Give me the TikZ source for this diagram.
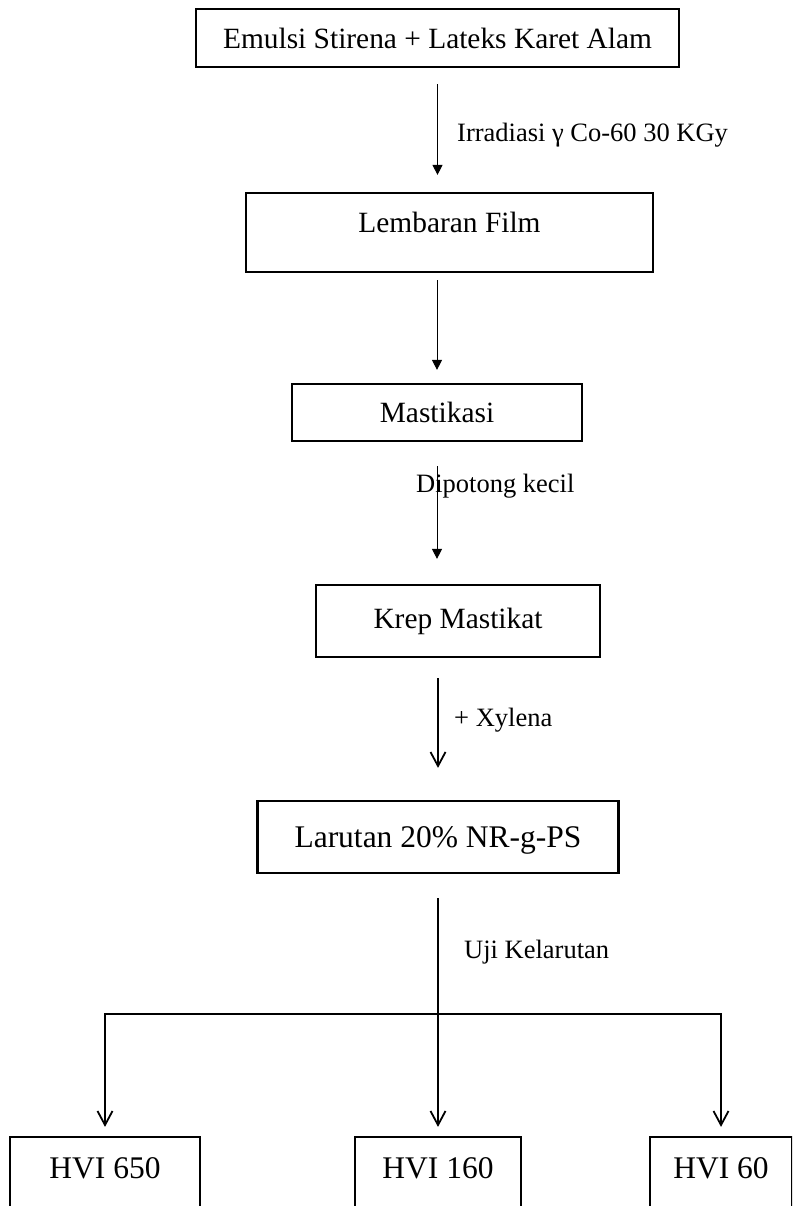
\documentclass[tikz,border=0pt]{standalone}
\usepackage{fontspec}
\setmainfont{Liberation Serif}
\usetikzlibrary{arrows.meta}

\begin{document}
\begin{tikzpicture}[x=1pt,y=-1pt,box/.style={draw, line width=2.2pt, inner sep=0pt, font=\fontsize{29.4}{35}\selectfont},bigbox/.style={box, font=\fontsize{31.5}{38}\selectfont},lbl/.style={anchor=base west, inner sep=0pt, font=\fontsize{26.5}{32}\selectfont},solidarrow/.style={line width=1pt, -{Triangle[width=10pt,length=10pt]}},openarrow/.style={line width=1.8pt, -{Straight Barb[width=15pt,length=14pt]}}]
\useasboundingbox (0,0) rectangle (792,1206);
\fill[white] (0,0) rectangle (792,1206);
\clip (0,0) rectangle (792,1206);
\node[box, minimum width=483, minimum height=58] (emulsi) at (437.5,38) {Emulsi Stirena + Lateks Karet Alam};
\node[box, minimum width=407, minimum height=79, text height=20pt, text depth=20pt] (film) at (449.5,232.5) {Lembaran Film};
\node[box, minimum width=290, minimum height=57] (mastikasi) at (437,412.5) {Mastikasi};
\node[box, minimum width=284, minimum height=72] (krep) at (458,621) {Krep Mastikat};
\node[bigbox, minimum width=361, minimum height=72, text depth=0pt] (larutan) at (438,837) {Larutan 20\% NR-g-PS};
\node[bigbox, minimum width=190, minimum height=83, text height=21pt, text depth=21pt] (hvi650) at (105,1178.5) {HVI 650};
\node[bigbox, minimum width=166, minimum height=83, text height=21pt, text depth=21pt] (hvi160) at (438,1178.5) {HVI 160};
\node[bigbox, minimum width=142, minimum height=83, text height=21pt, text depth=21pt] (hvi60) at (721,1178.5) {HVI 60};
\node[lbl] (irradiasi) at (457,142) {Irradiasi γ Co-60 30 KGy};
\node[lbl] (dipotong) at (416,492) {Dipotong kecil};
\node[lbl] (xylena) at (454,726) {+ Xylena};
\node[lbl] (kelarutan) at (464,958) {Uji Kelarutan};
\coordinate (split) at (438,1014);
\draw[solidarrow, shorten <=16pt, shorten >=17pt] (emulsi.south) -- (emulsi.south |- film.north);
\draw[solidarrow, shorten <=7pt, shorten >=13pt] (mastikasi.north |- film.south) -- (mastikasi.north);
\draw[solidarrow, shorten <=24pt, shorten >=25pt] (mastikasi.south) -- (mastikasi.south |- krep.north);
\draw[openarrow, shorten <=20pt, shorten >=32pt] (larutan.north |- krep.south) -- (larutan.north);
\draw[line width=1.8pt, shorten <=24pt] (larutan.south) -- (split);
\draw[openarrow, shorten >=9pt] (split) -| (hvi650.north);
\draw[openarrow, shorten >=9pt] (split) -- (hvi160.north);
\draw[openarrow, shorten >=9pt] (split) -| (hvi60.north);
\end{tikzpicture}
\end{document}
